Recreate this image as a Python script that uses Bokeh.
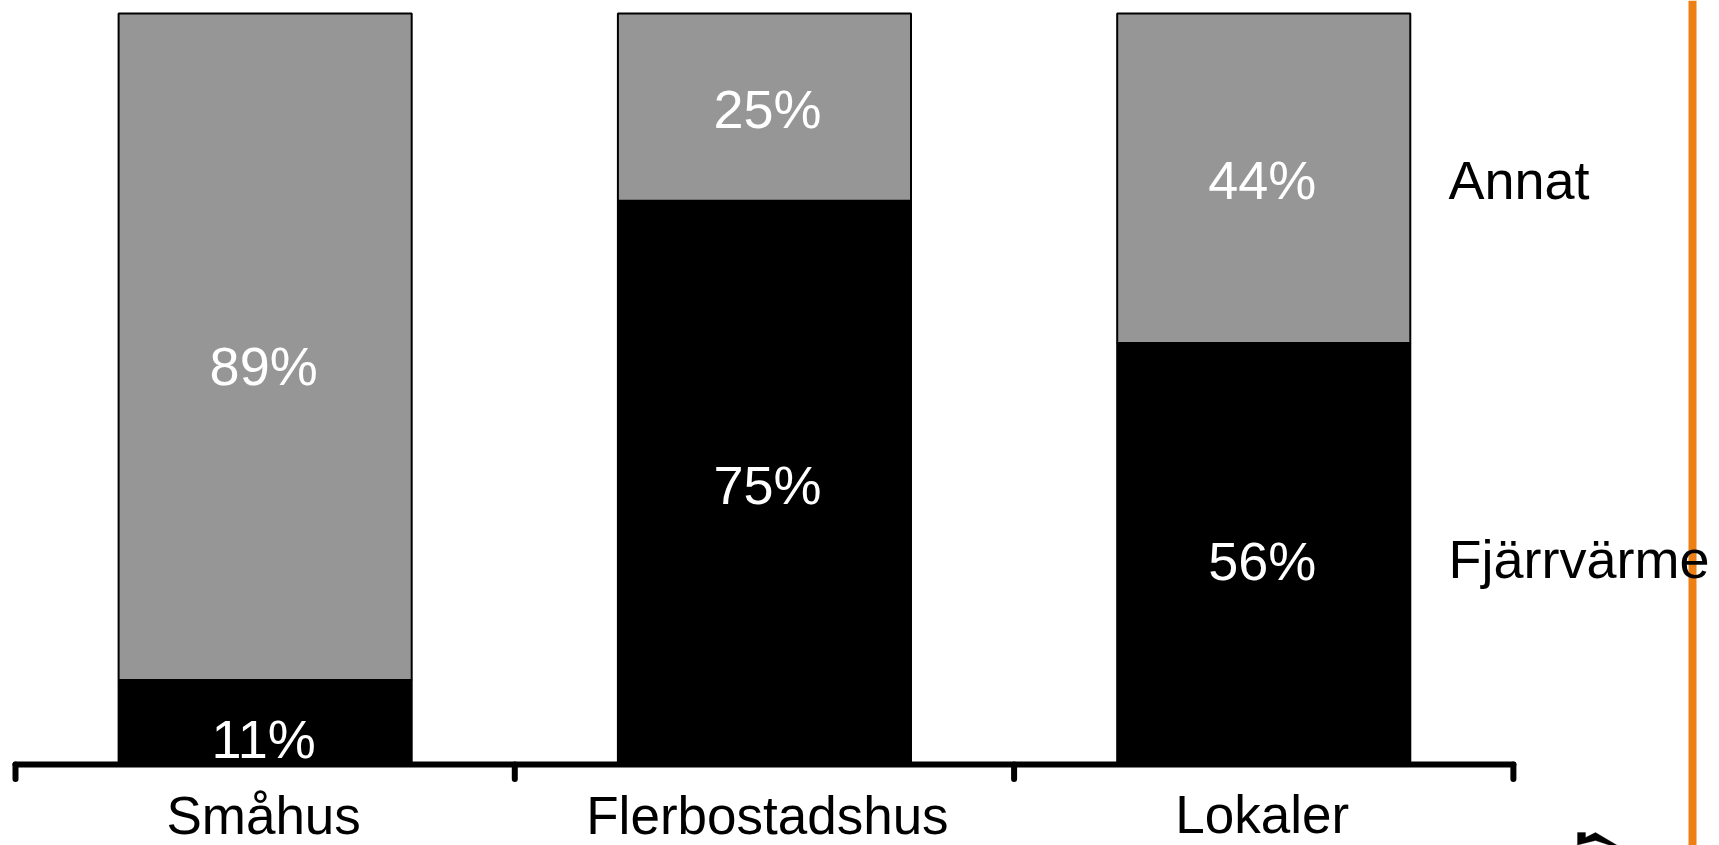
from bokeh.plotting import figure
from bokeh.models import (ColumnDataSource, Range1d, LabelSet, BoxAnnotation,
                          PolyAnnotation)
from bokeh.core.properties import value
from bokeh.embed import file_html
from bokeh.resources import INLINE

# ---- data ----
categories = ["Småhus", "Flerbostadshus", "Lokaler"]
fjarrvarme = [11, 75, 56]
annat = [89, 25, 44]
bar_x = [0.5, 1.5, 2.5]
series_names = ["Fjärrvärme", "Annat"]
axis_ticks = [0, 1, 2, 3]

# label anchors (data units)
value_label_x = [0.497, 1.506, 2.497]
fjarrvarme_label_y = [0.65, 34.5, 24.4]
annat_label_y = [50.45, 84.75, 75.25]
category_label_x = [0.497, 1.506, 2.497]
category_label_y = [-9.5, -9.5, -9.4]
legend_label_x = [2.870, 2.870]
legend_label_y = [24.6, 75.2]

FONT = "Liberation Sans"
GRAY = "#969696"
ORANGE = "#EE7F14"

p = figure(width=1719, height=845, output_backend="svg", toolbar_location=None,
           x_range=Range1d(-0.03004, 3.4128), y_range=Range1d(-11.08, 101.736),
           x_axis_location=None, y_axis_location=None,
           min_border=0, outline_line_color=None,
           background_fill_color="white", border_fill_color="white")
p.grid.visible = False

# orange rule on the right
p.add_layout(BoxAnnotation(left=1688, right=1696, top=0, bottom=845,
                           left_units="canvas", right_units="canvas",
                           top_units="canvas", bottom_units="canvas",
                           fill_color=ORANGE, fill_alpha=1, line_color=None,
                           level="underlay"))

# cropped house icon at the bottom edge
p.add_layout(PolyAnnotation(
    xs=[1577, 1577, 1585, 1585, 1595, 1617, 1610, 1595, 1575],
    ys=[845, 832, 832, 837, 832, 845, 845, 840, 845],
    xs_units="canvas", ys_units="canvas",
    fill_color="black", fill_alpha=1, line_color="black", line_width=1))

source = ColumnDataSource(dict(x=bar_x, Fjärrvärme=fjarrvarme, Annat=annat))
p.vbar_stack(series_names, x="x", width=0.587, source=source,
             color=["black", GRAY], line_color="black", line_width=2)

# axis line with group separators, on the zero line
base = -0.27
p.segment(x0=[axis_ticks[0]], y0=[base], x1=[axis_ticks[-1]], y1=[base],
          line_color="black", line_width=6, line_cap="round")
p.segment(x0=axis_ticks, y0=[base] * 4, x1=axis_ticks, y1=[-2.2] * 4,
          line_color="black", line_width=6, line_cap="round")

# value labels inside the bars
vals = ColumnDataSource(dict(
    x=value_label_x * 2,
    y=fjarrvarme_label_y + annat_label_y,
    t=[f"{v}%" for v in fjarrvarme + annat]))
p.add_layout(LabelSet(x="x", y="y", text="t", source=vals, text_color="white",
                      text_font=value(FONT), text_font_size="54px",
                      text_align="center", text_baseline="alphabetic"))

# category labels
cats = ColumnDataSource(dict(x=category_label_x, y=category_label_y, t=categories))
p.add_layout(LabelSet(x="x", y="y", text="t", source=cats, text_color="black",
                      text_font=value(FONT), text_font_size="53px",
                      text_align="center", text_baseline="alphabetic"))

# direct series labels
leg = ColumnDataSource(dict(x=legend_label_x, y=legend_label_y, t=series_names))
p.add_layout(LabelSet(x="x", y="y", text="t", source=leg, text_color="black",
                      text_font=value(FONT), text_font_size="54px",
                      text_align="left", text_baseline="alphabetic"))

open("out.html", "w").write(file_html(p, INLINE))
